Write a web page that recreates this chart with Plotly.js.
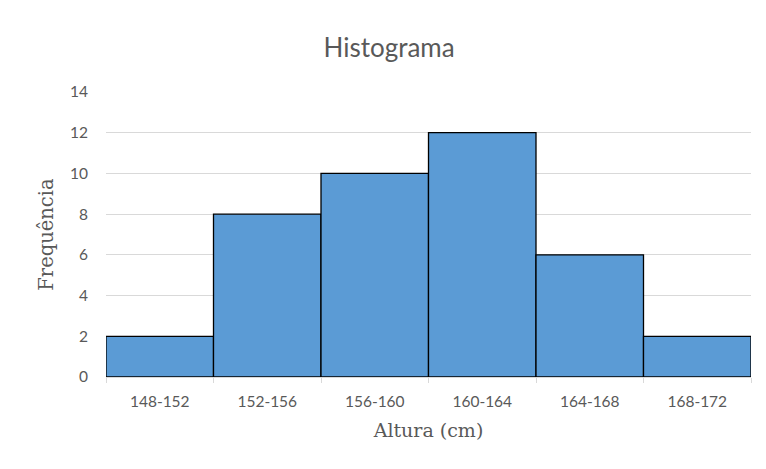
<!DOCTYPE html>
<html><head><meta charset="utf-8">
<script src="https://cdn.plot.ly/plotly-3.0.1.min.js"></script>
<style>html,body{margin:0;padding:0;background:#fff}</style>
</head><body>
<div id="chart" style="width:766px;height:469px"></div>
<script>
const categories = ["148-152","152-156","156-160","160-164","164-168","168-172"];
const frequencies = [2, 8, 10, 12, 6, 2];
const yTicks = [0, 2, 4, 6, 8, 10, 12, 14];

const trace = {
  type: "bar",
  x: categories,
  y: frequencies,
  width: 1,
  marker: {color: "#5B9BD5", line: {color: "#000000", width: 1.3}},
  hoverinfo: "x+y"
};

const layout = {
  width: 766, height: 469,
  margin: {l: 106, r: 15, t: 92, b: 92},
  paper_bgcolor: "#ffffff", plot_bgcolor: "#ffffff",
  bargap: 0,
  showlegend: false,
  title: {text: "Histograma", x: 0.508, xanchor: "center", y: 0.897, yanchor: "middle",
          font: {family: "Lato, 'Open Sans', sans-serif", size: 26, color: "#595959"}},
  xaxis: {
    type: "category",
    tickson: "boundaries",
    ticks: "outside", ticklen: 5, tickcolor: "#d9d9d9", tickwidth: 1,
    showline: true, linecolor: "#d9d9d9", linewidth: 1,
    showgrid: false, zeroline: false,
    ticklabelstandoff: 10,
    tickfont: {family: "Lato, 'Open Sans', sans-serif", size: 15.5, color: "#595959"},
    title: {text: "Altura (cm)", standoff: 15,
            font: {family: "'DejaVu Serif', 'Liberation Serif', serif", size: 19, color: "#595959"}}
  },
  yaxis: {
    range: [0, 14],
    tickvals: yTicks,
    ticktext: yTicks.map(String),
    showgrid: true, gridcolor: "#d9d9d9", gridwidth: 1,
    zeroline: false, showline: false, ticks: "",
    ticklabelstandoff: 17,
    tickfont: {family: "Lato, 'Open Sans', sans-serif", size: 15.5, color: "#595959"},
    title: {text: "Frequência", standoff: 11,
            font: {family: "'DejaVu Serif', 'Liberation Serif', serif", size: 19.5, color: "#595959"}}
  }
};

Plotly.newPlot("chart", [trace], layout, {displayModeBar: false, staticPlot: true});
</script>
</body></html>
